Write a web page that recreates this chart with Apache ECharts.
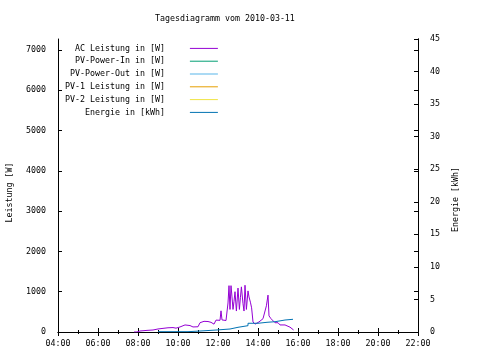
<!DOCTYPE html>
<html>
<head>
<meta charset="utf-8">
<script src="https://cdn.jsdelivr.net/npm/echarts@6/dist/echarts.min.js"></script>
<style>html,body{margin:0;padding:0;background:#fff}#c{width:480px;height:360px}</style>
</head>
<body>
<div id="c"></div>
<script>
// ---- data (hours of day, values) ----
const titleText = 'Tagesdiagramm vom 2010-03-11';
const seriesNames = ['AC Leistung in [W]', 'PV-Power-In in [W]', 'PV-Power-Out in [W]', 'PV-1 Leistung in [W]', 'PV-2 Leistung in [W]', 'Energie in [kWh]'];
const seriesColors = ['#9400d3', '#009e73', '#56b4e9', '#e69f00', '#f0e442', '#0072b2'];
const acTimes = [7.8, 7.95, 8.1, 8.45, 8.75, 9.0, 9.25, 9.5, 9.75, 9.8, 9.9, 10.1, 10.35, 10.6, 10.75, 11.0, 11.1, 11.3, 11.5, 11.65, 11.8, 11.9, 12.1, 12.15, 12.2, 12.4, 12.5, 12.55, 12.6, 12.65, 12.7, 12.75, 12.8, 12.85, 12.92, 13.0, 13.07, 13.12, 13.17, 13.25, 13.3, 13.35, 13.42, 13.5, 13.55, 13.62, 13.68, 13.75, 13.85, 13.95, 14.05, 14.15, 14.25, 14.35, 14.42, 14.5, 14.55, 14.65, 14.75, 14.85, 15.0, 15.1, 15.35, 15.45, 15.6, 15.7, 15.78];
const acWatts = [0, 0, 25, 40, 50, 75, 90, 105, 110, 150, 95, 125, 175, 160, 125, 130, 230, 265, 260, 240, 195, 295, 290, 525, 300, 285, 720, 1150, 560, 1150, 870, 560, 760, 1000, 520, 1090, 560, 850, 1120, 700, 520, 1160, 560, 1020, 870, 740, 600, 250, 195, 195, 250, 295, 330, 370, 650, 915, 400, 330, 320, 230, 230, 175, 175, 130, 120, 75, 50];
const energyTimes = [9.0, 10.5, 11.1, 11.9, 12.6, 13.0, 13.5, 14.0, 14.45, 14.85, 15.35, 15.75];
const energyKWh = [0.05, 0.15, 0.3, 0.46, 0.72, 0.97, 1.34, 1.49, 1.58, 1.84, 1.95, 1.95];
const powerTicks = [0, 1000, 2000, 3000, 4000, 5000, 6000, 7000];
const energyTicks = [0, 5, 10, 15, 20, 25, 30, 35, 40, 45];
const hourTicks = [4, 6, 8, 10, 12, 14, 16, 18, 20, 22];

const FONT = 'DejaVu Sans Mono';
const FS = 8.3;
const pair = (xs, ys) => xs.map((x, i) => [x, ys[i]]);
const hh = v => (v < 10 ? '0' : '') + v + ':00';

const chart = echarts.init(document.getElementById('c'), null, {renderer: 'canvas'});
const baseAxis = {
  axisLine: {show: true, lineStyle: {color: '#000', width: 1}},
  splitLine: {show: false},
  axisTick: {show: true, inside: true, length: 4, lineStyle: {color: '#000'}},
  axisLabel: {color: '#000', fontFamily: FONT, fontSize: FS}
};
const option = {
  animation: false,
  backgroundColor: '#fff',
  title: {text: titleText, left: 150, top: 10, textStyle: {fontFamily: FONT, fontSize: FS, fontWeight: 'normal', color: '#000'}},
  grid: {left: 58, right: 62, top: 39, bottom: 28, containLabel: false, outerBoundsMode: 'none'},
  legend: {
    orient: 'vertical', left: 60, top: 37, align: 'right', itemGap: 0,
    icon: 'rect', itemWidth: 28, itemHeight: 1,
    data: seriesNames,
    formatter: n => n.padStart(20, ' ') + '    ',
    textStyle: {fontFamily: FONT, fontSize: FS, color: '#000', lineHeight: 12.8}
  },
  xAxis: [
    Object.assign({}, baseAxis, {type: 'value', position: 'bottom', min: hourTicks[0], max: hourTicks[hourTicks.length - 1], interval: 2,
      minorTick: {show: true, splitNumber: 2, length: 2, lineStyle: {color: '#000'}},
      axisLabel: {color: '#000', fontFamily: FONT, fontSize: FS, margin: 8, formatter: hh}}),
    Object.assign({}, baseAxis, {type: 'value', position: 'top', min: 4, max: 22, interval: 2,
      minorTick: {show: true, splitNumber: 2, length: 2, lineStyle: {color: '#000'}},
      axisLabel: {show: false}})
  ],
  yAxis: [
    Object.assign({}, baseAxis, {type: 'value', position: 'left', min: powerTicks[0], max: 7270, interval: 1000,
      name: 'Leistung [W]', nameLocation: 'middle', nameGap: 44,
      nameTextStyle: {fontFamily: FONT, fontSize: FS, color: '#000', padding: [0, 14, 0, 0]},
      axisLabel: {color: '#000', fontFamily: FONT, fontSize: FS, margin: 12, showMaxLabel: false, formatter: v => String(v)}}),
    Object.assign({}, baseAxis, {type: 'value', position: 'right', offset: 0, min: energyTicks[0], max: energyTicks[energyTicks.length - 1], interval: 5,
      name: 'Energie [kWh]', nameLocation: 'middle', nameGap: 34,
      nameTextStyle: {fontFamily: FONT, fontSize: FS, color: '#000', padding: [0, 28, 0, 0]},
      axisLabel: {color: '#000', fontFamily: FONT, fontSize: FS, margin: 12, formatter: v => String(v)}}),
    Object.assign({}, baseAxis, {type: 'value', position: 'right', offset: 0, min: 0, max: 7270, interval: 1000,
      axisLabel: {show: false}})
  ],
  series: seriesNames.map((n, i) => {
    const s = {name: n, type: 'line', xAxisIndex: 0, yAxisIndex: 0, showSymbol: false, symbol: 'none',
      color: seriesColors[i], lineStyle: {width: 1, color: seriesColors[i]}, data: []};
    if (i === 0) s.data = pair(acTimes, acWatts);
    if (i === 5) { s.yAxisIndex = 1; s.step = 'end'; s.data = pair(energyTimes, energyKWh); }
    return s;
  })
};
chart.setOption(option);
</script>
</body>
</html>
